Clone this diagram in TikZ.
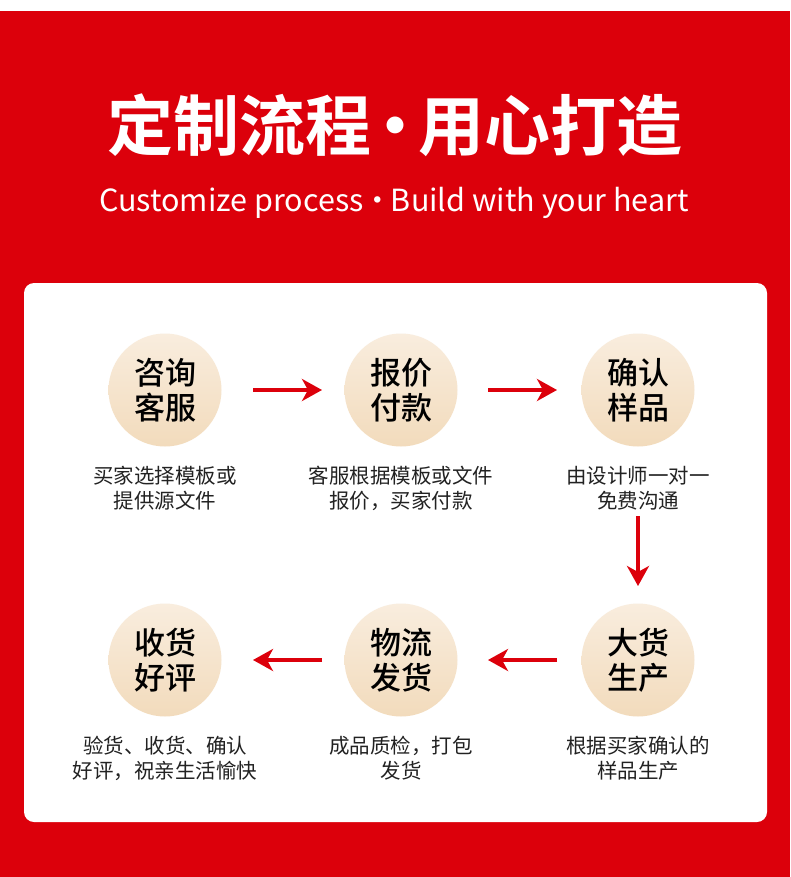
\documentclass[tikz,border=0pt]{standalone}
\usepackage{fontspec}
\setmainfont{Noto Sans CJK SC}
\newfontfamily\cjk{Noto Sans CJK SC}
\newfontfamily\cjkbold{Noto Sans CJK SC Bold}
\newfontfamily\cjkmed{Noto Sans CJK SC Medium}
\usetikzlibrary{arrows.meta,shadings}
\definecolor{bgred}{HTML}{DC000B}
\definecolor{circtop}{HTML}{F9EDDE}
\definecolor{circbot}{HTML}{F2DBBC}
\definecolor{captxt}{HTML}{222222}
\tikzset{
  stepcirc/.style={circle, minimum size=113pt, inner sep=0pt, top color=circtop, bottom color=circbot, draw=none,
    font=\cjkmed\fontsize{31}{35}\selectfont, align=center, text=black},
  capt/.style={font=\cjk\fontsize{20.5}{25}\selectfont, align=center, text=captxt},
  flow/.style={draw=bgred, line width=4pt, -{Stealth[length=20pt,width=22pt,inset=6pt]}, shorten >=0pt},
}
\begin{document}
\begin{tikzpicture}[x=1pt,y=-1pt]
\useasboundingbox (0,0) rectangle (790,877);
\fill[white] (0,0) rectangle (790,11);
\fill[bgred] (0,11) rectangle (790,877);
\fill[white, rounded corners=10pt] (24,283) rectangle (767,822);
\node[text=white, font=\cjkbold\fontsize{66}{70}\selectfont] (title) at (395,125) {定制流程\hspace{-0.15em}·\hspace{-0.15em}用心打造};
\node[text=white, font=\cjk\fontsize{30.5}{36}\selectfont] (sub) at (394,203) {Customize process\hspace{-0.05em}·\hspace{-0.05em}Build with your heart};

\node[stepcirc] (c1) at (165,390) {咨询\\客服};
\node[stepcirc] (c2) at (401,390) {报价\\付款};
\node[stepcirc] (c3) at (638,390) {确认\\样品};
\node[stepcirc] (c4) at (638,660) {大货\\生产};
\node[stepcirc] (c5) at (401,660) {物流\\发货};
\node[stepcirc] (c6) at (165,660) {收货\\好评};

\node[capt] (t1) at (165,488) {买家选择模板或\\提供源文件};
\node[capt] (t2) at (401,488) {客服根据模板或文件\\报价，买家付款};
\node[capt] (t3) at (638,488) {由设计师一对一\\免费沟通};
\node[capt] (t4) at (638,758) {根据买家确认的\\样品生产};
\node[capt] (t5) at (401,758) {成品质检，打包\\发货};
\node[capt] (t6) at (165,758) {验货、收货、确认\\好评，祝亲生活愉快};

\coordinate (a1s) at (253,390); \coordinate (a1e) at (322,390);
\coordinate (a2s) at (488,390); \coordinate (a2e) at (557,390);
\coordinate (a3s) at (638,516); \coordinate (a3e) at (638,586);
\coordinate (a4s) at (557,660); \coordinate (a4e) at (488,660);
\coordinate (a5s) at (322,660); \coordinate (a5e) at (253,660);
\draw[flow] (a1s) -- (a1e);
\draw[flow] (a2s) -- (a2e);
\draw[flow] (a3s) -- (a3e);
\draw[flow] (a4s) -- (a4e);
\draw[flow] (a5s) -- (a5e);
\end{tikzpicture}
\end{document}
